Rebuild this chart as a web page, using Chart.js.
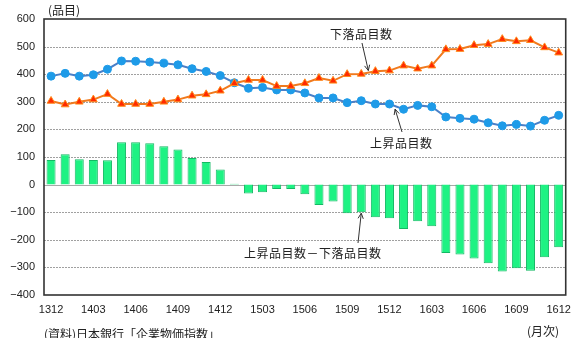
<!DOCTYPE html>
<html>
<head>
<meta charset="utf-8">
<script src="https://cdn.jsdelivr.net/npm/chart.js@4/dist/chart.umd.min.js"></script>
<style>
  html, body { margin: 0; padding: 0; background: #fff; }
  #wrap { width: 579px; height: 338px; position: relative; }
</style>
</head>
<body>
<div id="wrap"><canvas id="c" width="579" height="338"></canvas></div>
<script>
// Months (YYMM), Dec 2013 – Dec 2016
const months = [
  '1312','1401','1402','1403','1404','1405','1406','1407','1408','1409','1410','1411','1412',
  '1501','1502','1503','1504','1505','1506','1507','1508','1509','1510','1511','1512',
  '1601','1602','1603','1604','1605','1606','1607','1608','1609','1610','1611','1612'
];

// Number of items with rising prices
const risingItems = [
  393, 403, 393, 398, 418, 448, 447, 444, 440, 434, 420, 410, 395,
  369, 349, 352, 343, 343, 332, 314, 314, 297, 304, 292, 292,
  273, 287, 282, 245, 240, 237, 224, 213, 218, 212, 233, 251
];

// Number of items with falling prices
const fallingItems = [
  303, 290, 300, 308, 328, 292, 292, 292, 300, 308, 322, 327, 340,
  367, 379, 379, 357, 357, 367, 386, 376, 400, 401, 411, 413,
  431, 420, 431, 490, 491, 505, 509, 527, 519, 523, 497, 478
];

// Rising minus falling
const netItems = [
  89, 110, 92, 89, 88, 153, 153, 150, 139, 127, 96, 82, 55,
  3, -32, -28, -16, -16, -35, -74, -61, -104, -100, -118, -122,
  -161, -133, -151, -248, -253, -268, -285, -315, -303, -312, -263, -227
];

const yTicks = [-400, -300, -200, -100, 0, 100, 200, 300, 400, 500, 600];

const JP = '"Noto Sans CJK JP", "Noto Sans", sans-serif';
const NUM = '"Liberation Sans", Arial, sans-serif';
const TEXT = '#222';

function arrow(ctx, x1, y1, x2, y2) {
  ctx.save();
  ctx.strokeStyle = '#333';
  ctx.lineWidth = 1;
  ctx.beginPath();
  ctx.moveTo(x1, y1);
  ctx.lineTo(x2, y2);
  const a = Math.atan2(y2 - y1, x2 - x1);
  const L = 6, s = 0.45;
  ctx.moveTo(x2, y2);
  ctx.lineTo(x2 - L * Math.cos(a - s), y2 - L * Math.sin(a - s));
  ctx.moveTo(x2, y2);
  ctx.lineTo(x2 - L * Math.cos(a + s), y2 - L * Math.sin(a + s));
  ctx.stroke();
  ctx.restore();
}

// Horizontal grid lines and plot frame
const gridPlugin = {
  id: 'gridFrame',
  beforeDatasetsDraw(chart) {
    const { ctx, chartArea: a, scales: { y } } = chart;
    ctx.save();
    yTicks.forEach(v => {
      if (v === -400 || v === 600) return;
      const py = Math.round(y.getPixelForValue(v)) + 0.5;
      ctx.beginPath();
      if (v === 0) {
        ctx.setLineDash([]);
        ctx.strokeStyle = '#a8a8a8';
      } else {
        ctx.setLineDash([2, 1]);
        ctx.strokeStyle = '#a0a0a0';
      }
      ctx.lineWidth = 1;
      ctx.moveTo(a.left, py);
      ctx.lineTo(a.right, py);
      ctx.stroke();
    });
    ctx.restore();
  },
  afterDatasetsDraw(chart) {
    const { ctx, chartArea: a, scales: { x, y } } = chart;
    ctx.save();
    ctx.setLineDash([]);
    ctx.strokeStyle = '#333';
    ctx.lineWidth = 1.6;
    ctx.strokeRect(a.left, a.top, a.right - a.left, a.bottom - a.top);
    ctx.restore();

    // Series annotations
    const step = x.getPixelForValue(1) - x.getPixelForValue(0);
    ctx.save();
    ctx.fillStyle = TEXT;
    ctx.font = '12px ' + JP;
    ctx.letterSpacing = '0.5px';
    ctx.textBaseline = 'middle';
    ctx.textAlign = 'left';
    ctx.fillText('下落品目数', 330, 34);
    ctx.fillText('上昇品目数', 370, 143);
    ctx.fillText('上昇品目数－下落品目数', 244, 253);
    ctx.restore();

    const fx = x.getPixelForValue(22) + 0.5 * step;
    const fy = y.getPixelForValue((fallingItems[22] + fallingItems[23]) / 2) - 2;
    arrow(ctx, 362, 43, fx, fy);

    const rx = x.getPixelForValue(24) + 0.4 * step;
    const ry = y.getPixelForValue(risingItems[24] + 0.4 * (risingItems[25] - risingItems[24])) + 3;
    arrow(ctx, 402, 132, rx, ry);

    const nx = x.getPixelForValue(22);
    const ny = y.getPixelForValue(netItems[22]) + 1;
    arrow(ctx, 358, 243, nx, ny);

    // Unit and source texts
    ctx.save();
    ctx.fillStyle = TEXT;
    ctx.font = '12px ' + JP;
    ctx.textBaseline = 'middle';
    ctx.textAlign = 'left';
    ctx.fillText('(品目)', 48, 10);
    ctx.fillText('(資料)日本銀行「企業物価指数」', 44, 334);
    ctx.fillText('(月次)', 527, 331);
    ctx.restore();
  }
};

new Chart(document.getElementById('c'), {
  type: 'bar',
  data: {
    labels: months,
    datasets: [
      {
        type: 'line',
        label: '下落品目数',
        data: fallingItems,
        borderColor: '#f07a1e',
        borderWidth: 2,
        pointStyle: 'triangle',
        pointRadius: 4.5,
        pointBackgroundColor: '#ff2a00',
        pointBorderColor: '#ff8a1a',
        pointBorderWidth: 1,
        tension: 0,
        order: 1
      },
      {
        type: 'line',
        label: '上昇品目数',
        data: risingItems,
        borderColor: '#4a80c8',
        borderWidth: 2,
        pointStyle: 'circle',
        pointRadius: 4,
        pointBackgroundColor: '#1e9be8',
        pointBorderColor: '#1e9be8',
        pointBorderWidth: 1,
        tension: 0,
        order: 2
      },
      {
        type: 'bar',
        label: '上昇品目数－下落品目数',
        data: netItems,
        backgroundColor: '#1ef283',
        borderColor: '#14b864',
        borderWidth: 1,
        categoryPercentage: 1,
        barPercentage: 0.64,
        order: 3
      }
    ]
  },
  options: {
    responsive: false,
    animation: false,
    layout: { padding: { top: 19, right: 7, left: 0, bottom: 0 } },
    plugins: { legend: { display: false }, tooltip: { enabled: false } },
    scales: {
      x: {
        offset: true,
        grid: { display: false, drawTicks: false },
        border: { display: false },
        ticks: {
          autoSkip: false,
          maxRotation: 0,
          padding: 8,
          color: TEXT,
          font: { family: NUM, size: 11 },
          callback: (v, i) => (i % 3 === 0 ? months[i] : '')
        },
        afterFit(s) { s.height = 43; }
      },
      y: {
        min: -400,
        max: 600,
        grid: { display: false, drawTicks: false },
        border: { display: false },
        afterBuildTicks(s) { s.ticks = yTicks.map(v => ({ value: v })); },
        ticks: {
          padding: 9,
          color: TEXT,
          font: { family: NUM, size: 11 },
          callback: v => (v < 0 ? '−' + Math.abs(v) : String(v))
        },
        afterFit(s) { s.width = 44; }
      }
    }
  },
  plugins: [gridPlugin]
});
</script>
</body>
</html>
